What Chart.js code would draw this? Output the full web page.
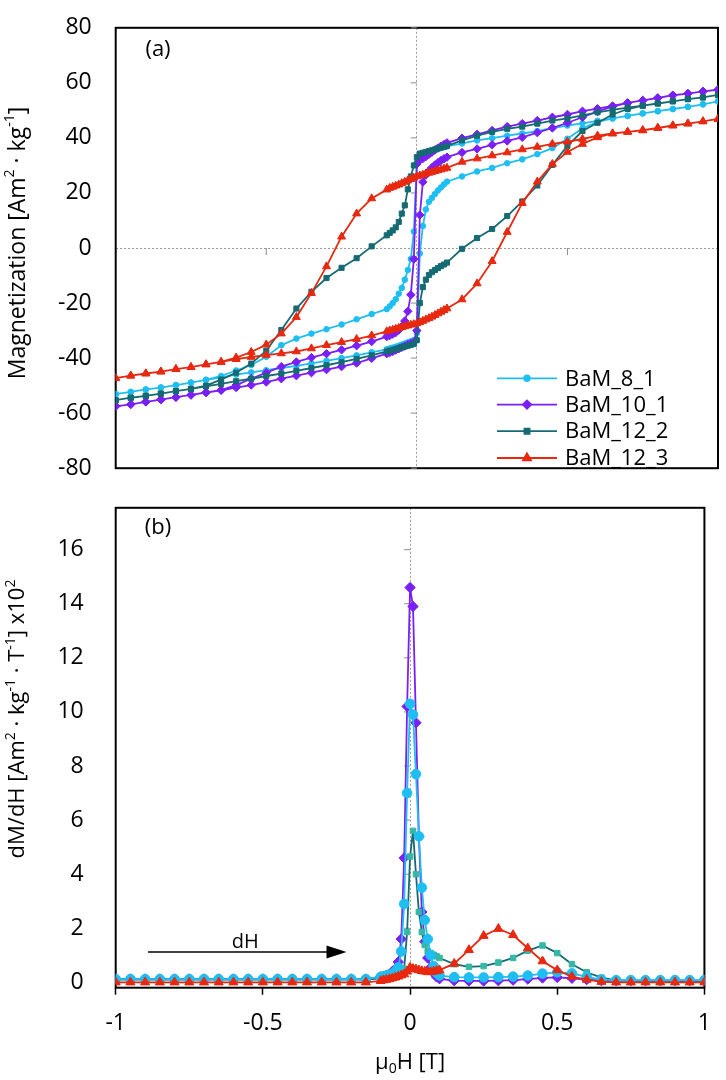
<!DOCTYPE html>
<html lang="en">
<head>
<meta charset="UTF-8">
<title>BaM hysteresis loops and dM/dH</title>
<script src="https://cdn.jsdelivr.net/npm/chart.js@4.4.1/dist/chart.umd.min.js"></script>
<style>
  html, body { margin: 0; padding: 0; background: #fff; }
  #page { position: relative; width: 726px; height: 1080px; overflow: hidden; }
  .panel { position: absolute; left: 0; width: 726px; }
  #boxA { top: -10px; height: 516px; }
  #boxB { top: 470px; height: 610px; }
</style>
</head>
<body>
<div id="page">
  <div class="panel" id="boxA"><canvas id="chartA"></canvas></div>
  <div class="panel" id="boxB"><canvas id="chartB"></canvas></div>
</div>
<script>
// field grid of the descending branch (T); the ascending branch is the same list reversed
const fieldDown = [1, 0.95, 0.9, 0.85, 0.8, 0.75, 0.7, 0.65, 0.6, 0.55, 0.5, 0.45, 0.4, 0.35, 0.3, 0.25, 0.2, 0.15,
  0.1, 0.09, 0.08, 0.07, 0.06, 0.05, 0.04, 0.03, 0.02, 0.01, 0, -0.01, -0.02, -0.03, -0.04, -0.05, -0.06, -0.07, -0.08, -0.09, -0.1,
  -0.15, -0.2, -0.25, -0.3, -0.35, -0.4, -0.45, -0.5, -0.55, -0.6, -0.65, -0.7, -0.75, -0.8, -0.85, -0.9, -0.95, -1];
const fieldUp = fieldDown.slice().reverse();

// (a) magnetization, Am2/kg
const bam81Down = [53.3, 52.2, 51.3, 50.5, 49.7, 48.9, 48.0, 47.1, 46.2, 45.3, 44.5, 43.6, 42.5, 41.6, 40.8, 39.9, 39.1, 38.0,
  36.9, 36.6, 36.3, 36.0, 35.6, 35.2, 34.8, 34.4, 34.0, 33.4, 31.0, 6.0, -4.0, -8.0, -11.5, -14.5, -16.6, -18.6, -20.0, -21.2, -22.2,
  -24.0, -25.9, -27.8, -29.5, -31.1, -32.9, -35.3, -39.5, -42.5, -44.5, -46.5, -47.9, -48.9, -49.8, -50.7, -51.4, -52.3, -53.1];
const bam81Up = [-53.1, -52.3, -51.4, -50.7, -49.8, -48.9, -47.9, -47.0, -46.0, -45.2, -44.4, -43.6, -42.8, -41.9, -41.0, -40.0, -39.0, -37.9,
  -36.8, -36.5, -36.2, -35.9, -35.5, -35.1, -34.7, -34.3, -33.9, -33.4, -31.0, -2.0, 8.0, 14.0, 16.8, 18.2, 19.6, 20.9, 22.0, 23.1, 24.1,
  26.0, 27.8, 29.1, 30.8, 32.2, 34.1, 36.3, 39.7, 43.5, 45.8, 47.1, 48.0, 48.9, 49.7, 50.5, 51.3, 52.2, 53.3];

const bam101Down = [57.5, 56.9, 56.1, 55.5, 54.5, 53.6, 52.7, 51.6, 50.6, 49.7, 48.5, 47.5, 46.3, 45.2, 44.1, 42.7, 41.3, 39.9,
  38.2, 37.6, 37.0, 36.3, 35.6, 34.8, 34.0, 33.2, 32.5, 31.9, 30.5, -4.0, -17.0, -23.0, -26.5, -28.5, -29.8, -30.7, -31.3, -31.8, -32.2,
  -34.0, -35.5, -37.0, -38.4, -39.8, -41.4, -43.1, -45.3, -47.5, -49.8, -51.6, -52.5, -53.4, -54.2, -55.1, -55.9, -56.8, -57.5];
const bam101Up = [-57.5, -56.8, -55.9, -55.1, -54.2, -53.4, -52.5, -51.7, -50.7, -49.8, -48.7, -47.5, -46.4, -45.3, -44.2, -43.1, -41.8, -40.1,
  -38.4, -38.0, -37.6, -37.1, -36.6, -36.1, -35.6, -35.1, -34.6, -34.2, -30.0, 12.0, 24.0, 26.5, 28.0, 29.2, 30.2, 31.0, 31.8, 32.4, 33.0,
  34.7, 36.0, 37.5, 38.9, 40.2, 41.9, 43.6, 45.5, 47.5, 49.6, 51.4, 52.7, 53.6, 54.5, 55.5, 56.1, 56.9, 57.5];

const bam122Down = [55.6, 54.7, 54.1, 53.3, 52.5, 51.7, 51.0, 50.2, 49.3, 48.2, 47.1, 46.3, 45.2, 44.1, 43.3, 42.2, 40.8, 39.1,
  37.1, 36.8, 36.5, 36.2, 35.8, 35.5, 35.2, 34.9, 34.6, 34.3, 33.0, 30.0, 26.0, 21.3, 15.5, 12.5, 9.5, 7.5, 6.4, 5.5, 4.6,
  0.6, -3.7, -7.2, -10.9, -15.9, -22.0, -29.8, -37.3, -42.0, -45.3, -47.8, -50.0, -51.2, -52.0, -52.9, -53.7, -54.4, -55.3];
const bam122Up = [-55.3, -54.4, -53.7, -52.9, -52.0, -51.2, -50.3, -49.4, -48.4, -47.5, -46.5, -45.6, -44.6, -43.6, -42.6, -41.5, -40.3, -39.0,
  -37.6, -37.3, -37.0, -36.7, -36.4, -36.1, -35.8, -35.5, -35.2, -34.9, -33.5, -20.0, -14.2, -11.5, -9.8, -8.8, -8.0, -7.3, -6.6, -6.0, -5.3,
  -0.3, 3.6, 6.9, 11.6, 16.9, 22.7, 30.2, 37.1, 42.5, 45.5, 48.5, 50.5, 51.7, 52.5, 53.3, 54.1, 54.7, 55.6];

const bam123Down = [46.9, 46.0, 45.2, 44.5, 43.6, 42.7, 42.2, 41.6, 40.8, 39.6, 38.6, 37.8, 36.7, 35.8, 34.7, 33.6, 32.5, 31.3,
  29.1, 28.8, 28.5, 28.2, 27.9, 27.6, 27.3, 27.0, 26.6, 26.3, 26.0, 25.5, 25.0, 24.5, 24.0, 23.5, 23.0, 22.6, 22.2, 21.8, 21.2,
  18.0, 12.5, 4.1, -6.7, -16.4, -25.1, -31.1, -35.1, -37.8, -39.8, -41.4, -42.3, -43.3, -44.0, -44.9, -45.6, -46.4, -47.3];
const bam123Up = [-47.3, -46.4, -45.6, -44.9, -44.0, -43.3, -42.3, -41.4, -40.4, -39.6, -38.9, -38.3, -37.6, -36.5, -35.3, -34.2, -33.1, -31.8,
  -30.3, -30.0, -29.7, -29.4, -29.1, -28.8, -28.5, -28.2, -27.9, -27.7, -27.4, -27.0, -26.5, -26.0, -25.5, -25.0, -24.4, -23.8, -23.2, -22.6, -22.0,
  -18.7, -12.9, -4.8, 5.8, 16.3, 24.1, 30.5, 34.9, 37.8, 40.2, 41.6, 42.2, 42.8, 43.6, 44.5, 45.2, 46.0, 46.9];

// (b) dM/dH x10^2 on the ascending field grid
const dmdh81 = [0.12, 0.12, 0.12, 0.12, 0.12, 0.12, 0.12, 0.12, 0.12, 0.12, 0.12, 0.12, 0.12, 0.12, 0.12, 0.12, 0.12, 0.12,
  0.2, 0.22, 0.25, 0.28, 0.32, 0.4, 0.55, 1.14, 2.9, 7.0, 10.3, 9.9, 7.7, 5.4, 3.5, 2.3, 1.6, 1.0, 0.6, 0.35, 0.25,
  0.19, 0.18, 0.18, 0.19, 0.21, 0.25, 0.32, 0.37, 0.33, 0.2, 0.1, 0.08, 0.08, 0.08, 0.08, 0.08, 0.08, 0.08];
const dmdh101 = [0.12, 0.12, 0.12, 0.12, 0.12, 0.12, 0.12, 0.12, 0.12, 0.12, 0.12, 0.12, 0.12, 0.12, 0.12, 0.12, 0.12, 0.12,
  0.2, 0.22, 0.25, 0.3, 0.4, 0.5, 0.75, 1.6, 4.6, 10.2, 14.6, 13.9, 9.6, 5.4, 2.6, 1.5, 0.9, 0.55, 0.35, 0.2, 0.13,
  0.06, 0.05, 0.05, 0.06, 0.08, 0.12, 0.16, 0.18, 0.15, 0.1, 0.06, 0.06, 0.06, 0.06, 0.06, 0.06, 0.06, 0.06];
const dmdh122 = [0.1, 0.1, 0.1, 0.1, 0.1, 0.1, 0.1, 0.1, 0.1, 0.1, 0.1, 0.1, 0.1, 0.1, 0.1, 0.1, 0.1, 0.1,
  0.15, 0.16, 0.17, 0.18, 0.2, 0.22, 0.26, 0.32, 0.5, 1.86, 4.65, 5.6, 4.0, 2.6, 1.86, 1.38, 1.14, 1.08, 1.02, 0.96, 0.9,
  0.67, 0.57, 0.6, 0.73, 0.9, 1.17, 1.36, 1.08, 0.67, 0.37, 0.17, 0.07, 0.05, 0.05, 0.05, 0.05, 0.05, 0.05];
const dmdh123 = [0, 0, 0, 0, 0, 0, 0, 0, 0, 0, 0, 0, 0, 0, 0, 0, 0, 0,
  0.05, 0.08, 0.1, 0.12, 0.15, 0.18, 0.22, 0.26, 0.3, 0.4, 0.55, 0.5, 0.48, 0.45, 0.42, 0.4, 0.38, 0.38, 0.4, 0.42, 0.45,
  0.69, 1.2, 1.72, 1.98, 1.75, 1.26, 0.78, 0.45, 0.21, 0.1, 0.02, 0, 0, 0, 0, 0, 0, 0];

const seriesNames = ['BaM_8_1', 'BaM_10_1', 'BaM_12_2', 'BaM_12_3'];
const xTicks = [-1, -0.5, 0, 0.5, 1];
const yTicksA = [-80, -60, -40, -20, 0, 20, 40, 60, 80];
const yTicksB = [0, 2, 4, 6, 8, 10, 12, 14, 16];

const FONT = "'Open Sans', sans-serif";
Chart.defaults.font.family = FONT;
Chart.defaults.color = '#000';

const looks = [
  { color: '#1FBEF2', point: 'circle', rA: 2.8, rB: 4.8 },
  { color: '#7B1FF7', point: 'rectRot', rA: 4.2, rB: 5.2 },
  { color: '#156A73', point: 'rect', rA: 3.6, rB: 3.9, markB: '#36B7A6' },
  { color: '#E8280F', point: 'triangle', rA: 4.6, rB: 5.2 }
];

function loop(down, up) {
  return fieldDown.map((h, i) => ({ x: h, y: down[i] }))
    .concat(fieldUp.map((h, i) => ({ x: h, y: up[i] })));
}
function curve(vals) {
  return fieldUp.map((h, i) => ({ x: h, y: vals[i] }));
}
function dataset(i, data, r, order, mark) {
  const c = looks[i].color, m = mark || c;
  return {
    label: seriesNames[i], data, showLine: true, tension: 0, order,
    borderColor: c, backgroundColor: m, borderWidth: 1.8,
    pointStyle: looks[i].point, pointRadius: r, pointBorderWidth: 1,
    pointBackgroundColor: m, pointBorderColor: m
  };
}

// text with super/subscript runs: [text, 'sup'|'sub'|undefined]
function drawRich(ctx, runs, cx, cy, size, angle) {
  const small = Math.round(size * 0.62);
  ctx.save();
  ctx.translate(cx, cy);
  ctx.rotate(angle);
  ctx.textBaseline = 'middle';
  ctx.textAlign = 'left';
  ctx.fillStyle = '#000';
  const widths = runs.map(r => {
    ctx.font = (r[1] ? small : size) + 'px ' + FONT;
    return ctx.measureText(r[0]).width;
  });
  let x = -widths.reduce((a, b) => a + b, 0) / 2;
  runs.forEach((r, i) => {
    ctx.font = (r[1] ? small : size) + 'px ' + FONT;
    const dy = r[1] === 'sup' ? -size * 0.33 : r[1] === 'sub' ? size * 0.28 : 0;
    ctx.fillText(r[0], x, dy);
    x += widths[i];
  });
  ctx.restore();
}

function frame(chart) {
  const { ctx, chartArea: a } = chart;
  ctx.save();
  ctx.strokeStyle = '#000';
  ctx.lineWidth = 2;
  ctx.strokeRect(a.left, a.top, a.right - a.left, a.bottom - a.top);
  ctx.restore();
}

// small marks on the zero axes, as in the original
function zeroTicks(chart, yVals, withX) {
  const { ctx, scales } = chart;
  const x0 = scales.x.getPixelForValue(0);
  ctx.save();
  ctx.strokeStyle = '#8a8a8a';
  ctx.lineWidth = 1;
  ctx.beginPath();
  yVals.forEach(v => {
    if (v === 0) return;
    const y = scales.y.getPixelForValue(v);
    ctx.moveTo(x0 - 6, y); ctx.lineTo(x0, y);
  });
  if (withX) {
    const y0 = scales.y.getPixelForValue(0);
    xTicks.forEach(v => {
      if (Math.abs(v) === 1 || v === 0) return;
      const x = scales.x.getPixelForValue(v);
      ctx.moveTo(x, y0); ctx.lineTo(x, y0 + 7);
    });
  }
  ctx.stroke();
  ctx.restore();
}

function zeroGrid(c) {
  return c.tick && c.tick.value === 0 ? '#9b9b9b' : 'rgba(0,0,0,0)';
}

const ytitleA = [['Magnetization [Am'], ['2', 'sup'], [' \u00b7 kg'], ['-1', 'sup'], [']']];
const ytitleB = [['dM/dH [Am'], ['2', 'sup'], [' \u00b7 kg'], ['-1', 'sup'], [' \u00b7 T'], ['-1', 'sup'], ['] x10'], ['2', 'sup']];
const xtitle = [['\u03bc'], ['0', 'sub'], ['H [T]']];

const offA = 10;    // page y -> canvas A y
const offB = -470;  // page y -> canvas B y

new Chart(document.getElementById('chartA'), {
  type: 'scatter',
  data: {
    datasets: [
      dataset(0, loop(bam81Down, bam81Up), looks[0].rA, 4),
      dataset(1, loop(bam101Down, bam101Up), looks[1].rA, 3),
      dataset(2, loop(bam122Down, bam122Up), looks[2].rA, 2),
      dataset(3, loop(bam123Down, bam123Up), looks[3].rA, 1)
    ]
  },
  options: {
    responsive: true, maintainAspectRatio: false, animation: false, devicePixelRatio: 1,
    layout: { padding: { top: 20.7, right: 8, bottom: 15.3, left: 0 } },
    plugins: { legend: { display: false }, tooltip: { enabled: false } },
    scales: {
      x: {
        type: 'linear', min: -1, max: 1,
        afterBuildTicks: s => { s.ticks = xTicks.map(v => ({ value: v })); },
        afterFit: s => { s.height = 0; },
        ticks: { display: false },
        grid: { drawTicks: false, color: zeroGrid, lineWidth: 1 },
        border: { display: false, dash: [2, 2] }
      },
      y: {
        min: -80, max: 80,
        afterBuildTicks: s => { s.ticks = yTicksA.map(v => ({ value: v })); },
        afterFit: s => { s.width = 115.7; },
        ticks: { font: { size: 23 }, padding: 24, color: '#000' },
        grid: { drawTicks: false, color: zeroGrid, lineWidth: 1 },
        border: { display: false, dash: [2, 2] }
      }
    }
  },
  plugins: [{
    id: 'decorA',
    beforeDatasetsDraw(chart) {
      frame(chart);
      zeroTicks(chart, yTicksA, true);
    },
    afterDraw(chart) {
      const ctx = chart.ctx;
      ctx.save();
      ctx.fillStyle = '#000';
      ctx.font = '22px ' + FONT;
      ctx.textAlign = 'center';
      ctx.textBaseline = 'middle';
      ctx.fillText('(a)', 158, 50 + offA);
      ctx.restore();
      drawRich(ctx, ytitleA, 18, 243 + offA, 23, -Math.PI / 2);

      // legend
      const rows = [378.3, 404.6, 431.2, 458.0];
      rows.forEach((py, i) => {
        const y = py + offA, L = looks[i];
        ctx.save();
        ctx.strokeStyle = L.color;
        ctx.lineWidth = 1.8;
        ctx.beginPath();
        ctx.moveTo(497, y); ctx.lineTo(557, y);
        ctx.stroke();
        ctx.fillStyle = L.color;
        Chart.helpers.drawPoint(ctx, { pointStyle: L.point, radius: L.rA, rotation: 0, borderWidth: 1 }, 527, y);
        ctx.fillStyle = '#000';
        ctx.font = '22px ' + FONT;
        ctx.textAlign = 'left';
        ctx.textBaseline = 'middle';
        ctx.fillText(seriesNames[i], 565, y + 1);
        ctx.restore();
      });
    }
  }]
});

new Chart(document.getElementById('chartB'), {
  type: 'scatter',
  data: {
    datasets: [
      dataset(0, curve(dmdh81), looks[0].rB, 2),
      dataset(1, curve(dmdh101), looks[1].rB, 4),
      dataset(2, curve(dmdh122), looks[2].rB, 3, looks[2].markB),
      dataset(3, curve(dmdh123), looks[3].rB, 1)
    ]
  },
  options: {
    responsive: true, maintainAspectRatio: false, animation: false, devicePixelRatio: 1,
    layout: { padding: { top: 20.7, right: 8, bottom: 0, left: 0 } },
    plugins: { legend: { display: false }, tooltip: { enabled: false } },
    scales: {
      x: {
        type: 'linear', min: -1, max: 1,
        afterBuildTicks: s => { s.ticks = xTicks.map(v => ({ value: v })); },
        afterFit: s => { s.height = 92.3; },
        ticks: { font: { size: 23 }, padding: 15, color: '#000', callback: v => String(v) },
        grid: { drawTicks: true, tickLength: 7, tickColor: '#000', tickWidth: 1.5, color: zeroGrid, lineWidth: 1 },
        border: { display: false, dash: [2, 2] }
      },
      y: {
        min: -0.2, max: 17.55,
        afterBuildTicks: s => { s.ticks = yTicksB.map(v => ({ value: v })); },
        afterFit: s => { s.width = 115.7; },
        ticks: { font: { size: 23 }, padding: 24, color: '#000' },
        grid: { display: false },
        border: { display: false }
      }
    }
  },
  plugins: [{
    id: 'decorB',
    beforeDatasetsDraw(chart) {
      frame(chart);
      zeroTicks(chart, yTicksB, false);
    },
    afterDraw(chart) {
      const { ctx, scales } = chart;
      ctx.save();
      ctx.fillStyle = '#000';
      ctx.font = '22px ' + FONT;
      ctx.textAlign = 'center';
      ctx.textBaseline = 'middle';
      ctx.fillText('(b)', 158, 528 + offB);

      // dH arrow
      const xa = scales.x.getPixelForValue(-0.89), xb = scales.x.getPixelForValue(-0.216);
      const ya = scales.y.getPixelForValue(1.12);
      ctx.strokeStyle = '#000';
      ctx.lineWidth = 1.5;
      ctx.beginPath();
      ctx.moveTo(xa, ya); ctx.lineTo(xb - 18, ya);
      ctx.stroke();
      ctx.beginPath();
      ctx.moveTo(xb, ya); ctx.lineTo(xb - 20, ya - 6.5); ctx.lineTo(xb - 20, ya + 6.5);
      ctx.closePath();
      ctx.fill();
      ctx.font = '20px ' + FONT;
      ctx.fillText('dH', scales.x.getPixelForValue(-0.56), scales.y.getPixelForValue(1.47));
      ctx.restore();

      drawRich(ctx, ytitleB, 18, 719 + offB, 22, -Math.PI / 2);
      drawRich(ctx, xtitle, scales.x.getPixelForValue(0), 1063 + offB, 22, 0);
    }
  }]
});
</script>
</body>
</html>
